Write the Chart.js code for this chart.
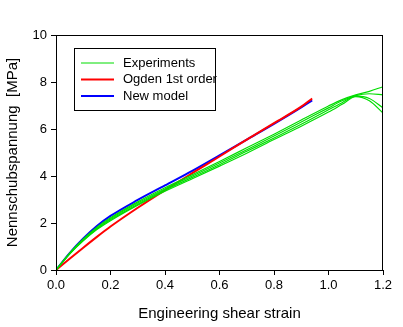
<!DOCTYPE html>
<html>
<head>
<meta charset="utf-8">
<script src="https://cdn.jsdelivr.net/npm/chart.js@4"></script>
<style>
  html, body { margin: 0; padding: 0; background: #fff; }
  #wrap { width: 403px; height: 327px; }
</style>
</head>
<body>
<div id="wrap"><canvas id="chart" width="403" height="327"></canvas></div>
<script>
// strain values (engineering shear strain)
const expStrain = [0, 0.05, 0.1, 0.15, 0.2, 0.3, 0.4, 0.5, 0.6, 0.7, 0.8, 0.9, 1.0, 1.05, 1.1, 1.15, 1.2]
const exp1 = [0, 0.72, 1.32, 1.82, 2.22, 2.9, 3.5, 4.05, 4.62, 5.2, 5.78, 6.38, 6.98, 7.25, 7.45, 7.6, 7.8]
const exp2 = [0, 0.7, 1.28, 1.78, 2.18, 2.85, 3.45, 4.0, 4.55, 5.12, 5.7, 6.3, 6.9, 7.2, 7.42, 7.5, 7.45]
const exp3 = [0, 0.69, 1.26, 1.75, 2.14, 2.8, 3.4, 3.94, 4.48, 5.05, 5.62, 6.2, 6.82, 7.12, 7.4, 7.3, 6.9]
const exp4 = [0, 0.68, 1.24, 1.72, 2.1, 2.76, 3.35, 3.88, 4.42, 4.97, 5.55, 6.12, 6.72, 7.05, 7.38, 7.2, 6.68]

const modelStrain = [0, 0.05, 0.1, 0.15, 0.2, 0.3, 0.4, 0.5, 0.6, 0.7, 0.8, 0.9, 0.94]
const ogden = [0, 0.48, 0.95, 1.41, 1.85, 2.65, 3.4, 4.12, 4.83, 5.55, 6.25, 6.95, 7.3]
const newModel = [0, 0.72, 1.34, 1.87, 2.3, 2.98, 3.6, 4.22, 4.88, 5.55, 6.22, 6.92, 7.22]

const legendLabels = ["Experiments", "Ogden 1st order", "New model"]
const legendColors = ["#00dd00", "#ff0000", "#0000ff"]

const toPoints = (xs, ys) => xs.map((x, i) => ({ x: x, y: ys[i] }))

const green = legendColors[0]
const expLine = (ys) => ({
  data: toPoints(expStrain, ys),
  borderColor: green,
  borderWidth: 1.2,
  pointRadius: 0,
  cubicInterpolationMode: "monotone",
})

// frame around plot area + boxed legend in the upper left
const framePlugin = {
  id: "frame",
  afterDraw(chart) {
    const { ctx, chartArea } = chart
    ctx.save()
    ctx.strokeStyle = "#000"
    ctx.lineWidth = 1
    ctx.strokeRect(chartArea.left + 0.5, chartArea.top + 0.5, chartArea.right - chartArea.left - 1, chartArea.bottom - chartArea.top)

    // legend box
    const bx = 74, by = 48, bw = 141, bh = 62
    ctx.fillStyle = "#fff"
    ctx.fillRect(bx, by, bw, bh)
    ctx.strokeRect(bx + 0.5, by + 0.5, bw, bh)
    ctx.font = "13px 'Liberation Sans', Arial, sans-serif"
    ctx.textBaseline = "middle"
    legendLabels.forEach((label, i) => {
      const y = by + 15 + i * 16.5
      ctx.strokeStyle = legendColors[i]
      ctx.lineWidth = i === 0 ? 1 : 2
      ctx.beginPath()
      ctx.moveTo(81, y)
      ctx.lineTo(114, y)
      ctx.stroke()
      ctx.fillStyle = "#000"
      ctx.fillText(label, 123, y)
    })
    ctx.restore()
  },
}

new Chart(document.getElementById("chart"), {
  type: "line",
  data: {
    datasets: [
      expLine(exp1),
      expLine(exp2),
      expLine(exp3),
      expLine(exp4),
      {
        data: toPoints(modelStrain, ogden),
        borderColor: legendColors[1],
        borderWidth: 2,
        pointRadius: 0,
        cubicInterpolationMode: "monotone",
      },
      {
        data: toPoints(modelStrain, newModel),
        borderColor: legendColors[2],
        borderWidth: 2,
        pointRadius: 0,
        cubicInterpolationMode: "monotone",
      },
    ],
  },
  options: {
    responsive: false,
    animation: false,
    layout: { padding: { top: 35, right: 20, left: 0, bottom: 0 } },
    plugins: { legend: { display: false }, tooltip: { enabled: false } },
    scales: {
      x: {
        type: "linear",
        min: 0,
        max: 1.2,
        ticks: {
          stepSize: 0.2,
          color: "#000",
          padding: 3,
          font: { family: "'Liberation Sans', Arial, sans-serif", size: 13 },
          callback: (v) => v.toFixed(1),
        },
        grid: { drawOnChartArea: false, drawTicks: true, tickLength: 5, color: "#000" },
        border: { color: "#000", width: 1 },
        title: {
          display: true,
          text: "Engineering shear strain",
          color: "#000",
          font: { family: "'Liberation Sans', Arial, sans-serif", size: 15 },
          padding: { top: 6, bottom: 4 },
        },
        afterFit: (scale) => { scale.height = 57 },
      },
      y: {
        min: 0,
        max: 10,
        ticks: {
          stepSize: 2,
          color: "#000",
          padding: 4,
          font: { family: "'Liberation Sans', Arial, sans-serif", size: 13 },
        },
        grid: { drawOnChartArea: false, drawTicks: true, tickLength: 5, color: "#000" },
        border: { color: "#000", width: 1 },
        title: {
          display: true,
          text: "Nennschubspannung  [MPa]",
          color: "#000",
          font: { family: "'Liberation Sans', Arial, sans-serif", size: 15 },
          padding: { top: 4, bottom: 4 },
        },
        afterFit: (scale) => { scale.width = 56 },
      },
    },
  },
  plugins: [framePlugin],
})
</script>
</body>
</html>
